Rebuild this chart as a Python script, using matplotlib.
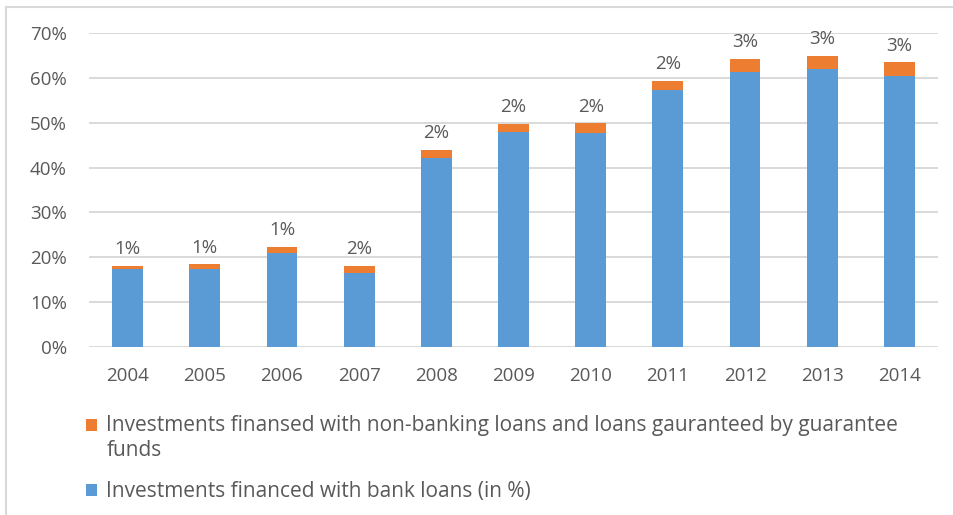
import matplotlib
matplotlib.use("Agg")
import matplotlib.pyplot as plt
from matplotlib.legend_handler import HandlerPatch
from matplotlib.lines import Line2D
from matplotlib.patches import Patch, Rectangle
from matplotlib.ticker import FuncFormatter, MultipleLocator

years = ["2004", "2005", "2006", "2007", "2008", "2009",
         "2010", "2011", "2012", "2013", "2014"]
bank_loans = [17.4, 17.4, 20.9, 16.4, 42.2, 48.0, 47.7, 57.4, 61.4, 62.0, 60.4]
non_bank_loans = [0.7, 1.0, 1.4, 1.7, 1.7, 1.8, 2.2, 1.9, 2.8, 2.9, 3.1]

label_bank = "Investments financed with bank loans (in %)"
label_non_bank = ("Investments finansed with non-banking loans and loans "
                  "gauranteed by guarantee\nfunds")

BLUE = "#5B9BD5"
ORANGE = "#ED7D31"
TEXT = "#595959"
GRID = "#D9D9D9"

plt.rcParams["font.family"] = ["Open Sans", "DejaVu Sans"]
plt.rcParams["text.color"] = TEXT

W, H = 954, 515
fig = plt.figure(figsize=(W / 100, H / 100), dpi=100)
ax = fig.add_axes([89 / W, 1 - 347 / H, (938 - 89) / W, (347 - 33) / H])

x = list(range(len(years)))
ax.bar(x, bank_loans, width=0.4, color=BLUE, zorder=3)
top = ax.bar(x, non_bank_loans, width=0.4, bottom=bank_loans,
             color=ORANGE, zorder=3)
ax.bar_label(top, labels=[f"{v:.0f}%" for v in non_bank_loans],
             padding=5.5, fontsize=13.5, color=TEXT)

ax.set_xlim(-0.5, len(years) - 0.5)
ax.set_ylim(0, 70)
ax.yaxis.set_major_locator(MultipleLocator(10))
ax.yaxis.set_major_formatter(FuncFormatter(lambda v, _: f"{v:.0f}%"))
ax.set_xticks(x)
ax.set_xticklabels(years)
ax.tick_params(axis="both", length=0, labelsize=13.5, labelcolor=TEXT)
ax.tick_params(axis="y", pad=16)
ax.tick_params(axis="x", pad=14.5)
ax.grid(axis="y", color=GRID, linewidth=1.4, zorder=0)
ax.set_axisbelow(True)
for s in ax.spines.values():
    s.set_visible(False)


def first_line_square(legend, orig_handle, xdescent, ydescent,
                      width, height, fontsize):
    # keep the swatch beside the first line of a wrapped label
    return Rectangle((-xdescent, -ydescent + 10.0), width, height)


orange_handle = Patch(facecolor=ORANGE)
blue_handle = Patch(facecolor=BLUE)
leg = fig.legend([orange_handle, blue_handle], [label_non_bank, label_bank],
                 handler_map={orange_handle: HandlerPatch(patch_func=first_line_square)},
                 loc="upper left", bbox_to_anchor=(86 / W, 1 - 415 / H),
                 frameon=False, fontsize=15, labelcolor=TEXT,
                 handlelength=0.53, handleheight=0.53, handletextpad=0.45,
                 labelspacing=0.95, borderaxespad=0, borderpad=0)
for t in leg.get_texts():
    t.set_linespacing(1.28)

# chart-area frame along the top and left edges
fig.add_artist(Line2D([6.5 / W, 1], [1 - 6.5 / H, 1 - 6.5 / H],
                      transform=fig.transFigure, color=GRID, linewidth=1.5))
fig.add_artist(Line2D([6.5 / W, 6.5 / W], [0, 1 - 6.5 / H],
                      transform=fig.transFigure, color=GRID, linewidth=1.5))

fig.savefig("out.png", dpi=100, facecolor="white")
